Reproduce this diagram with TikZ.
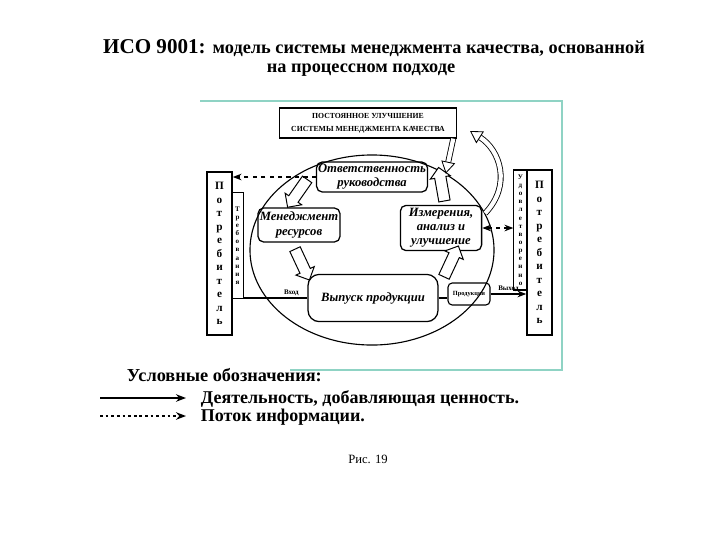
\documentclass[tikz,border=0pt]{standalone}
\usepackage{fontspec}
\setmainfont{Liberation Serif}
\usetikzlibrary{arrows.meta,positioning,calc,shapes.geometric,shapes.arrows}
\definecolor{frameteal}{HTML}{8FD3C4}

\begin{document}
\begin{tikzpicture}[
    x=0.025cm, y=-0.025cm,
    >={Stealth[length=2.2mm]},
    block/.style={draw, line width=0.9pt, rounded corners=4pt, align=center, inner sep=1pt,
        font=\fontsize{9}{10}\selectfont\bfseries\itshape},
    party/.style={draw, line width=0.9pt, align=center, inner sep=0pt,
        font=\fontsize{8}{9.6}\selectfont\bfseries},
    need/.style={draw, line width=0.8pt, align=center, inner sep=0pt,
        font=\fontsize{5}{5.8}\selectfont\bfseries},
    fatarrow/.style={single arrow, draw, line width=0.7pt, fill=white, inner sep=0.13cm,
        minimum height=0.85cm, single arrow head extend=0.11cm},
    flow/.style={line width=1.2pt},
    info/.style={->, dashed, line width=1.1pt},
    improve/.style={double, double distance=3pt, line width=0.6pt},
    tag/.style={font=\fontsize{5}{6}\selectfont\bfseries, inner sep=1pt},
    legend/.style={anchor=west, font=\fontsize{12.8}{15}\selectfont\bfseries},
]
    \useasboundingbox (0,0) rectangle (720,540);

    % --- Title ---
    \node (t1) at (374,48) {\fontsize{15}{17}\selectfont\bfseries ИСО 9001: \fontsize{13}{15}\selectfont модель системы менеджмента качества, основанной};
    \node (t2) at (361,70) {\fontsize{13}{15}\selectfont\bfseries на процессном подходе};

    % --- Frame ---
    \draw[frameteal, line width=1pt] (200,101) -- (562,101) -- (562,370) -- (290,370);

    % --- Nodes ---
    \node[draw, line width=0.9pt, minimum width=4.43cm, minimum height=0.75cm, align=center,
        font=\fontsize{5.5}{9}\selectfont\bfseries] (imp) at (368,123)
        {ПОСТОЯННОЕ УЛУЧШЕНИЕ\\СИСТЕМЫ МЕНЕДЖМЕНТА КАЧЕСТВА};

    \node[ellipse, draw, line width=0.8pt, minimum width=6.1cm, minimum height=4.75cm] (pdca) at (372,250) {};

    \node[block, minimum width=2.73cm, minimum height=0.75cm] (resp) at (372,177) {Ответственность\\руководства};
    \node[block, minimum width=2.05cm, minimum height=0.85cm] (res) at (299,225) {Менеджмент\\ресурсов};
    \node[block, minimum width=2.03cm, minimum height=1.13cm] (meas) at (441,228) {Измерения,\\анализ и\\улучшение};
    \node[block, rounded corners=8pt, minimum width=3.25cm, minimum height=1.18cm] (prod) at (373,298) {Выпуск продукции};
    \node[draw, line width=0.8pt, rounded corners=3pt, minimum width=1.05cm, minimum height=0.55cm,
        font=\fontsize{4.5}{5}\selectfont\bfseries] (out) at (469,294) {Продукция};

    % Customers
    \node[party, minimum width=0.63cm, minimum height=4.08cm] (custL) at (219.5,253.5)
        {П\\о\\т\\р\\е\\б\\и\\т\\е\\л\\ь};
    \node[need, minimum width=0.28cm, minimum height=2.63cm] (reqL) at (237.5,245.5)
        {Т\\р\\е\\б\\о\\в\\а\\н\\и\\я};
    \node[need, minimum width=0.33cm, minimum height=3cm] (satR) at (520.5,230)
        {У\\д\\о\\в\\л\\е\\т\\в\\о\\р\\е\\н\\н\\о};
    \node[party, minimum width=0.63cm, minimum height=4.13cm] (custR) at (539.5,252.5)
        {П\\о\\т\\р\\е\\б\\и\\т\\е\\л\\ь};

    % --- Fat arrows of the cycle ---
    \node[fatarrow, rotate=235] (a1) at (299,191) {};
    \node[fatarrow, rotate=-65] (a2) at (301,262) {};
    \node[fatarrow, rotate=65] (a3) at (450,264) {};
    \node[fatarrow, rotate=100] (a4) at (442,187) {};

    % --- Flows ---
    \draw[flow] (prod.west -| reqL.east) -- (prod.west) node[tag, pos=0.75, above] {Вход};
    \draw[flow] (prod.east) -- (prod.east -| out.west);
    \draw[flow, ->] (out.east) -- (out.east -| custR.west) node[tag, midway, above] {Выход};

    \draw[info] (resp.west) -- (resp.west -| custL.east);
    \draw[info, <->] (meas.east) -- (meas.east -| satR.west);

    % --- Improvement loop ---
    \coordinate (upend) at (470,131);
    \draw[improve, -{Triangle[open, length=3mm, width=3.5mm]}] (pdca.18) .. controls (512,185) and (500,150) .. (upend);
    \draw[improve, -{Triangle[open, length=3mm, width=3.5mm]}] ($(imp.south east)+(-4,0)$) -- (pdca.46);

    % --- Legend ---
    \node[legend, font=\fontsize{13}{15}\selectfont\bfseries] (lgd) at (122,375) {Условные обозначения:};
    \coordinate (s1) at (100,398);
    \coordinate (e1) at (186,398);
    \coordinate (s2) at (100,416);
    \coordinate (e2) at (186,416);
    \draw[line width=2pt, -{Stealth[length=2.5mm]}] (s1) -- (e1);
    \draw[line width=2pt, dotted, -{Stealth[length=2.5mm]}] (s2) -- (e2);
    \node[legend] (l1) at (196,399) {Деятельность, добавляющая ценность.};
    \node[legend] (l2) at (196,417) {Поток информации.};

    \node[font=\fontsize{9}{10}\selectfont] (fig) at (368,459) {Рис. 19};

\end{tikzpicture}
\end{document}
